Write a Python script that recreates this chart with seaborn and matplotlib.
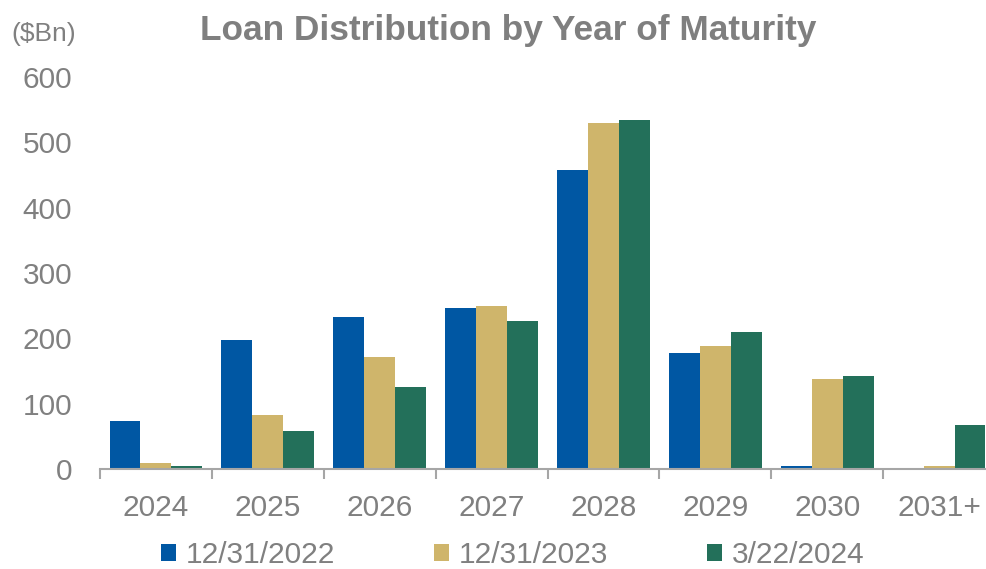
import matplotlib
matplotlib.use("Agg")
import matplotlib.pyplot as plt
from matplotlib.patches import Patch
import seaborn as sns
import pandas as pd

# Loan balances ($Bn) by year of maturity, as of three snapshot dates
years = ["2024", "2025", "2026", "2027", "2028", "2029", "2030", "2031+"]
snapshots = ["12/31/2022", "12/31/2023", "3/22/2024"]
vals_2022 = [73, 197, 233, 247, 457, 177, 5, 0]
vals_2023 = [9, 82, 171, 250, 530, 188, 137, 5]
vals_2024 = [4, 58, 125, 226, 534, 210, 143, 67]
y_ticks = [0, 100, 200, 300, 400, 500, 600]

colors = ["#0057A3", "#CFB56B", "#23705A"]
gray = "#808080"

df = pd.DataFrame({
    "year": years * 3,
    "snapshot": [snapshots[0]] * 8 + [snapshots[1]] * 8 + [snapshots[2]] * 8,
    "value": vals_2022 + vals_2023 + vals_2024,
})

sns.set_theme(style="white")
plt.rcParams["font.family"] = ["Liberation Sans", "DejaVu Sans"]

fig = plt.figure(figsize=(9.86, 5.69), dpi=100)
ax = fig.add_axes([100 / 986, 100 / 569, 895 / 986, 392 / 569])

sns.barplot(data=df, x="year", y="value", hue="snapshot", order=years,
            hue_order=snapshots, palette=colors, saturation=1, width=0.83,
            gap=0, linewidth=0, ax=ax, legend=False)

ax.set_xlim(-0.5, 7.5)
ax.set_ylim(0, 600)
ax.set_yticks(y_ticks)
ax.set_xlabel("")
ax.set_ylabel("")

for s in ["top", "right", "left"]:
    ax.spines[s].set_visible(False)
ax.spines["bottom"].set_color("#A6A6A6")
ax.spines["bottom"].set_linewidth(1.5)

ax.tick_params(axis="y", length=0, pad=20, labelsize=21.5, labelcolor=gray)
ax.tick_params(axis="x", which="major", length=0, pad=18, labelsize=21.5, labelcolor=gray)
ax.set_xticks([i - 0.5 for i in range(9)], minor=True)
ax.tick_params(axis="x", which="minor", length=7, width=1.5, color="#A6A6A6",
               direction="out", bottom=True)

fig.text(0.515, 1 - 40 / 569, "Loan Distribution by Year of Maturity", ha="center",
         va="baseline", fontsize=25.4, fontweight="bold", color="#7F7F7F")
fig.text(0.012, 1 - 41 / 569, "($Bn)", ha="left", va="baseline", fontsize=19, color=gray)

handles = [Patch(facecolor=c, edgecolor="none") for c in colors]
fig.legend(handles, snapshots, loc="center", bbox_to_anchor=(0.52, 0.025),
           ncol=3, frameon=False, fontsize=21.5, labelcolor=gray,
           handlelength=0.5, handleheight=0.5, handletextpad=0.33,
           columnspacing=3.3, borderpad=0)

fig.savefig("out.png", dpi=100)
